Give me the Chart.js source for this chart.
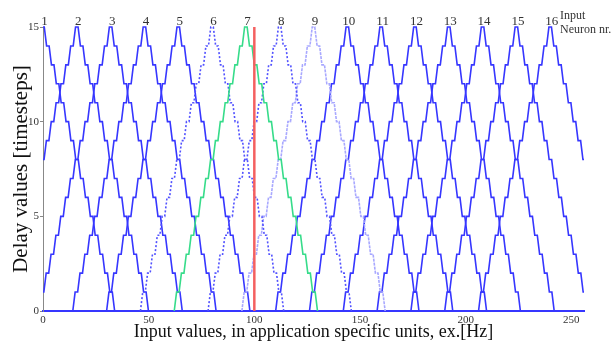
<!DOCTYPE html>
<html>
<head>
<meta charset="utf-8">
<script src="https://cdn.jsdelivr.net/npm/chart.js@4.4.1/dist/chart.umd.min.js"></script>
<style>
html, body { margin: 0; padding: 0; background: #fff; }
#wrap { position: relative; width: 614px; height: 345px; }
</style>
</head>
<body>
<div id="wrap"><canvas id="delayChart"></canvas></div>
<script>
// input neurons and the input value where each one peaks
const neuronNr = [1, 2, 3, 4, 5, 6, 7, 8, 9, 10, 11, 12, 13, 14, 15, 16];
const neuronPeak = [0, 16, 32, 48, 64, 80, 96, 112, 128, 144, 160, 176, 192, 208, 224, 240];

// one flank of the staircase (distance from peak -> delay)
const stepOffset = [0, 0.6, 1.7, 2.9, 4.0, 5.2, 6.3, 7.5, 8.6, 9.8, 10.9, 12.1, 13.2, 14.4, 15.5, 16.7,
                    17.8, 19.0, 20.1, 21.3, 22.4, 23.6, 24.7, 25.9, 27.0, 28.2, 29.3, 30.5, 31.6, 32.8, 33.9];
const stepDelay = [15, 15, 14, 14, 13, 13, 12, 12, 11, 11, 10, 10, 9, 9, 8, 8,
                   7, 7, 6, 6, 5, 5, 4, 4, 3, 3, 2, 2, 1, 1, 0];

const xTicks = [0, 50, 100, 150, 200, 250];
const yTicks = [0, 5, 10, 15];
const markerInput = 100;

const serif = '"Liberation Serif", "DejaVu Serif", serif';
const blue = '#3636ff';

function neuronStyle(n) {
    if (n === 7) return { color: '#36dc8a', dash: [], order: 1 };
    if (n === 6 || n === 8) return { color: '#5252ff', dash: [2, 2], order: 2 };
    if (n === 9) return { color: '#a8a8ff', dash: [3, 1], order: 2 };
    return { color: blue, dash: [], order: 3 };
}

const datasets = neuronNr.map((n, i) => {
    const c = neuronPeak[i];
    const left = stepOffset.map((o, j) => ({ x: c - o, y: stepDelay[j] })).reverse();
    const right = stepOffset.map((o, j) => ({ x: c + o, y: stepDelay[j] }));
    const st = neuronStyle(n);
    return {
        label: 'Neuron ' + n,
        data: left.concat(right),
        borderColor: st.color,
        borderWidth: 1.6,
        borderDash: st.dash,
        pointRadius: 0,
        tension: 0,
        order: st.order,
        clip: { left: 0, top: 4, right: 0, bottom: 4 }
    };
});

datasets.push({
    label: 'Input',
    data: [{ x: markerInput, y: 0 }, { x: markerInput, y: 15 }],
    borderColor: '#f46060',
    borderWidth: 2.5,
    pointRadius: 0,
    order: 0
});

const neuronLabels = {
    id: 'neuronLabels',
    afterDraw(chart) {
        const { ctx, scales: { x } } = chart;
        ctx.save();
        ctx.fillStyle = '#333';
        ctx.font = '13px ' + serif;
        ctx.textAlign = 'center';
        ctx.textBaseline = 'alphabetic';
        neuronNr.forEach((n, i) => {
            ctx.fillText(String(n), x.getPixelForValue(neuronPeak[i]) + 1.5, 25);
        });
        ctx.font = '12px ' + serif;
        ctx.textAlign = 'left';
        ctx.fillText('Input', 560, 19);
        ctx.fillText('Neuron nr.', 560, 33);
        ctx.restore();
    }
};

new Chart(document.getElementById('delayChart'), {
    type: 'line',
    data: { datasets },
    options: {
        responsive: true,
        maintainAspectRatio: false,
        animation: false,
        layout: { padding: { top: 27, right: 30, left: 0, bottom: 0 } },
        plugins: { legend: { display: false }, tooltip: { enabled: false } },
        scales: {
            x: {
                type: 'linear',
                min: 0,
                max: 256,
                z: 1,
                afterFit: s => { s.height = 34; },
                afterBuildTicks: s => { s.ticks = xTicks.map(v => ({ value: v })); },
                grid: { drawOnChartArea: false, drawTicks: false },
                border: { color: blue, width: 2 },
                ticks: { color: '#333', font: { family: serif, size: 11 }, padding: 3, maxRotation: 0 },
                title: {
                    display: true,
                    text: 'Input values, in application specific units, ex.[Hz]',
                    color: '#111',
                    font: { family: serif, size: 18, lineHeight: 1.2 },
                    padding: { top: 0, bottom: 2 }
                }
            },
            y: {
                min: 0,
                max: 15,
                afterFit: s => { s.width = 43; },
                afterBuildTicks: s => { s.ticks = yTicks.map(v => ({ value: v })); },
                grid: { drawOnChartArea: false, tickLength: 3, color: '#888' },
                border: { color: '#888', width: 1 },
                ticks: { color: '#333', font: { family: serif, size: 11 }, padding: 1 },
                title: {
                    display: true,
                    text: 'Delay values [timesteps]',
                    color: '#111',
                    font: { family: serif, size: 21, lineHeight: 1.2 },
                    padding: { top: 9, bottom: 0 }
                }
            }
        }
    },
    plugins: [neuronLabels]
});
</script>
</body>
</html>
